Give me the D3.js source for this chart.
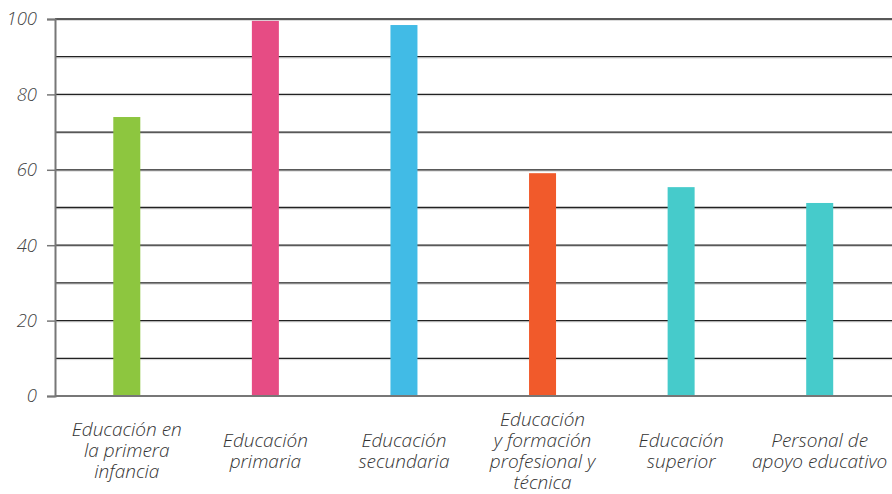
<!DOCTYPE html>
<html>
<head>
<meta charset="utf-8">
<script src="https://cdn.jsdelivr.net/npm/d3@7"></script>
<style>
  html, body { margin: 0; padding: 0; background: #fff; }
  svg { display: block; }
  text { font-family: "Open Sans", "Noto Sans", sans-serif; font-style: italic; font-weight: 300; }
</style>
</head>
<body>
<svg id="chart" width="892" height="494"></svg>
<script>
// Category labels, one entry per line of each label
const categories = [
  ["Educación en", "la primera", "infancia"],
  ["Educación", "primaria"],
  ["Educación", "secundaria"],
  ["Educación", "y formación", "profesional y", "técnica"],
  ["Educación", "superior"],
  ["Personal de", "apoyo educativo"]
];
const values = [74, 99.5, 98.4, 59.1, 55.4, 51.2];
const colors = ["#8dc63f", "#e64c84", "#41bbe6", "#f15a2b", "#46cbcb", "#46cbcb"];
const yTicks = [0, 20, 40, 60, 80, 100];
const gridValues = [10, 20, 30, 40, 50, 60, 70, 80, 90, 100];

const svg = d3.select("#chart");
const plotLeft = 55, plotRight = 892, plotTop = 19, plotBottom = 396;

const x = d3.scaleBand()
  .domain(d3.range(categories.length))
  .range([57.5, 889])
  .padding(0);
const y = d3.scaleLinear().domain([0, 100]).range([plotBottom, plotTop]);
const barWidth = 27;

// horizontal gridlines: dark rule with a faint grey rule beneath
const grid = svg.append("g");
grid.selectAll("line.shadow").data(gridValues).join("line")
  .attr("class", "shadow")
  .attr("x1", plotLeft).attr("x2", plotRight)
  .attr("y1", d => y(d) + 1.3).attr("y2", d => y(d) + 1.3)
  .attr("stroke", "#d4d4d4").attr("stroke-width", 1);
grid.selectAll("line.rule").data(gridValues).join("line")
  .attr("class", "rule")
  .attr("x1", plotLeft).attr("x2", plotRight)
  .attr("y1", d => y(d)).attr("y2", d => y(d))
  .attr("stroke", "#222").attr("stroke-width", 1.3);

// bars
svg.append("g").selectAll("rect").data(values).join("rect")
  .attr("x", (d, i) => x(i) + x.bandwidth() / 2 - barWidth / 2)
  .attr("width", barWidth)
  .attr("y", d => y(d))
  .attr("height", d => y(0) - y(d))
  .attr("fill", (d, i) => colors[i]);

// baseline
svg.append("line")
  .attr("x1", plotLeft).attr("x2", plotRight)
  .attr("y1", y(0)).attr("y2", y(0))
  .attr("stroke", "#777").attr("stroke-width", 2);

// y axis
const yAxis = d3.axisLeft(y).tickValues(yTicks).tickSize(8).tickPadding(10);
const gy = svg.append("g").attr("transform", `translate(${plotLeft},0)`).call(yAxis);
gy.select(".domain").attr("stroke", "#777").attr("stroke-width", 2);
gy.selectAll(".tick line").attr("stroke", "#777").attr("stroke-width", 1.5);
gy.selectAll(".tick text")
  .attr("fill", "#444")
  .style("font-size", "18.5px");

// category labels, vertically centred on a common line
const lineH = 21, labelCenter = 457;
const lab = svg.append("g").attr("text-anchor", "middle")
  .style("font-size", "19px").attr("fill", "#333");
categories.forEach((lines, i) => {
  const cx = x(i) + x.bandwidth() / 2;
  const y0 = labelCenter - (lines.length - 1) * lineH / 2;
  const t = lab.append("text").attr("x", cx);
  lines.forEach((ln, k) => {
    t.append("tspan").attr("x", cx).attr("y", y0 + k * lineH).text(ln);
  });
});
</script>
</body>
</html>
